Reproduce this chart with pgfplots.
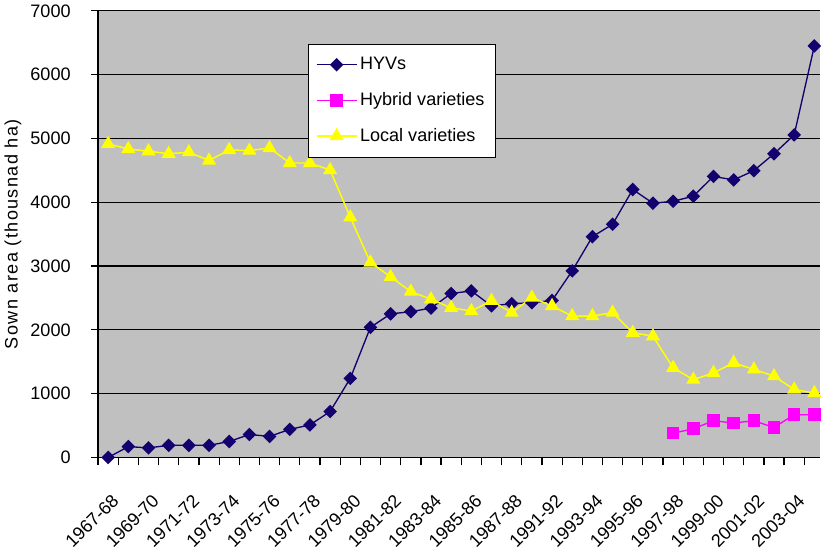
\documentclass[border=0pt]{standalone}
\usepackage{fontspec}
\setmainfont{Liberation Sans}
\usepackage{pgfplots}
\pgfplotsset{compat=1.18}
\definecolor{bggray}{RGB}{192,192,192}
\definecolor{hyv}{RGB}{20,0,110}
\definecolor{hyb}{RGB}{255,0,255}
\definecolor{loc}{RGB}{255,255,0}
\begin{document}
\begin{tikzpicture}
\begin{axis}[
  scale only axis, width=540.2pt, height=334pt,
  xmin=-0.5, xmax=35.3, ymin=0, ymax=7000,
  axis x line*=bottom, axis y line*=left,
  axis line style={line width=0.9pt, black, -},
  axis background/.style={fill=bggray},
  ytick={0,1000,...,7000},
  ymajorgrids, grid style={black, line width=0.9pt},
  xtick={0,2,...,34},
  xticklabels={1967-68,1969-70,1971-72,1973-74,1975-76,1977-78,1979-80,1981-82,1983-84,1985-86,1987-88,1991-92,1993-94,1995-96,1997-98,1999-00,2001-02,2003-04},
  minor xtick={-0.5,0.5,...,34.5},
  major x tick style={draw=none},
  tick align=outside, major tick length=5pt, minor tick length=6pt,
  tick style={black, line width=0.9pt},
  yticklabel style={font=\fontsize{13.5}{16}\selectfont, xshift=-12pt},
  /pgf/number format/assume math mode=true,
  /pgf/number format/1000 sep={},
  xticklabel style={font=\fontsize{13.5}{16}\selectfont, inner sep=0pt, xshift=2pt, yshift=-21.4pt, rotate=45, anchor=north east},
  ylabel={Sown area (thousnad ha)},
  ylabel style={font=\fontsize{13.5}{16}\selectfont\addfontfeature{LetterSpace=8}},
  legend style={at={(0.29,0.926)}, anchor=north west, draw=black, fill=white,
    font=\fontsize{13.5}{16}\selectfont, row sep=11.5pt, inner xsep=6pt, inner ysep=8pt,
    cells={anchor=west}},
  legend image code/.code={\draw[mark repeat=2,mark phase=2] plot coordinates {(0pt,0pt) (15pt,0pt) (30pt,0pt)};},
]
\addplot[color=hyv, line width=1pt, mark=square*, mark size=3.1pt, mark options={solid, fill=hyv, rotate=45}] coordinates {
(0,0) (1,170) (2,150) (3,190) (4,190) (5,190) (6,250) (7,360) (8,330) (9,440)
(10,510) (11,720) (12,1240) (13,2040) (14,2250) (15,2285) (16,2340) (17,2570) (18,2610) (19,2375)
(20,2410) (21,2425) (22,2460) (23,2925) (24,3460) (25,3655) (26,4200) (27,3985) (28,4015) (29,4095)
(30,4405) (31,4350) (32,4495) (33,4760) (34,5055) (35,6450)};
\addlegendentry{HYVs}
\addplot[color=hyb, line width=1pt, mark=square*, mark size=4.2pt, mark options={solid, fill=hyb}] coordinates {
(28,380) (29,450) (30,575) (31,540) (32,575) (33,470) (34,670) (35,670)};
\addlegendentry{Hybrid varieties}
\addplot[color=loc, line width=1.1pt, mark=triangle*, mark size=5pt, mark options={solid, fill=loc}] coordinates {
(0,4915) (1,4835) (2,4800) (3,4760) (4,4785) (5,4655) (6,4820) (7,4810) (8,4850) (9,4615)
(10,4615) (11,4505) (12,3765) (13,3055) (14,2830) (15,2600) (16,2480) (17,2345) (18,2295) (19,2455)
(20,2270) (21,2505) (22,2375) (23,2215) (24,2215) (25,2270) (26,1955) (27,1900) (28,1405) (29,1220)
(30,1325) (31,1485) (32,1380) (33,1275) (34,1065) (35,1010)};
\addlegendentry{Local varieties}
\end{axis}
\path ([yshift=-73pt]current axis.south west);
\end{tikzpicture}
\end{document}
